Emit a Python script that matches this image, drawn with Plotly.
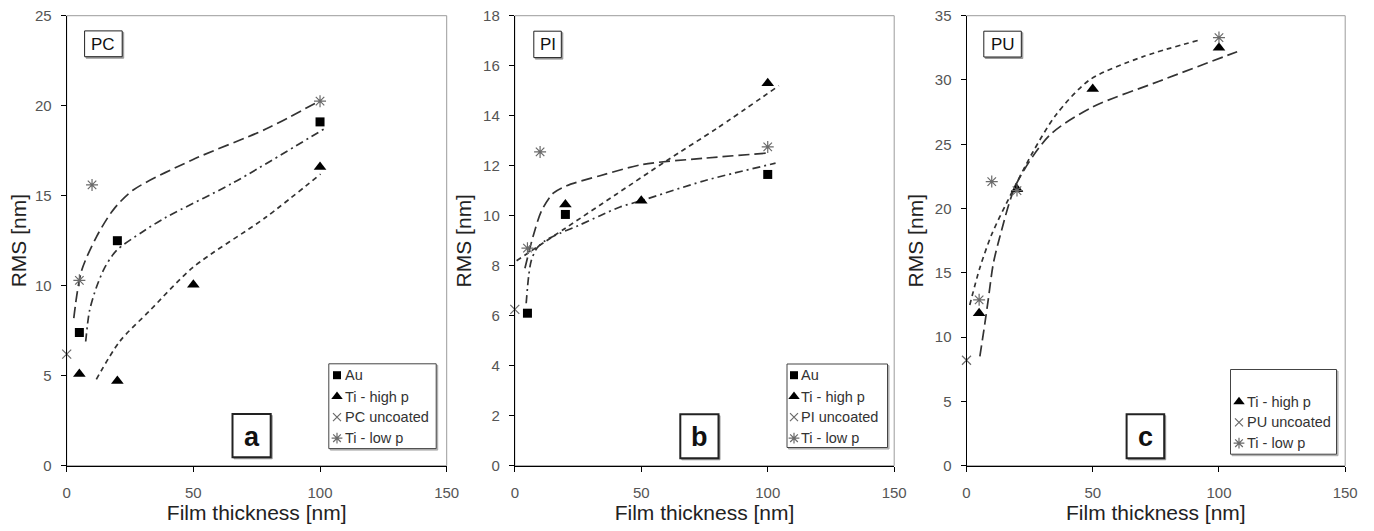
import plotly.graph_objects as go

W, H = 1374, 531

# ---------------- Panel a: PC ----------------
pc_au_x = [5, 20, 100]
pc_au_y = [7.4, 12.5, 19.1]
pc_tihigh_x = [5, 20, 50, 100]
pc_tihigh_y = [5.1, 4.7, 10.05, 16.6]
pc_uncoated_x = [0]
pc_uncoated_y = [6.2]
pc_tilow_x = [5, 10, 100]
pc_tilow_y = [10.3, 15.6, 20.25]

# trend curves (sampled)
pc_fit_tilow_x = [2.8, 5.8, 11.7, 18.3, 26.1, 49.7, 78.6, 100.2]
pc_fit_tilow_y = [8.2, 10.8, 12.7, 14.2, 15.3, 17.0, 18.7, 20.3]
pc_fit_au_x = [7.5, 9.0, 11.7, 15.0, 19.6, 30.0, 39.2, 65.5, 101.5]
pc_fit_au_y = [6.9, 8.6, 9.9, 11.0, 11.95, 13.0, 13.8, 15.7, 18.7]
pc_fit_tihigh_x = [11.7, 20.9, 32.7, 49.7, 78.6, 100.2]
pc_fit_tihigh_y = [4.8, 6.9, 8.6, 11.0, 13.8, 16.2]

# ---------------- Panel b: PI ----------------
pi_au_x = [5, 20, 100]
pi_au_y = [6.1, 10.05, 11.65]
pi_tihigh_x = [20, 50, 100]
pi_tihigh_y = [10.45, 10.6, 15.3]
pi_uncoated_x = [0]
pi_uncoated_y = [6.25]
pi_tilow_x = [5, 10, 100]
pi_tilow_y = [8.7, 12.55, 12.75]

pi_fit_tilow_x = [4.0, 7.3, 10.6, 15.2, 20.5, 33.7, 50.6, 75.0, 99.2]
pi_fit_tilow_y = [7.9, 9.2, 10.2, 10.9, 11.2, 11.6, 12.05, 12.3, 12.5]
pi_fit_au_x = [4.5, 5.5, 6.5, 8.7, 12.0, 17.9, 25.0, 33.7, 41.6, 50.0, 75.0, 103.1]
pi_fit_au_y = [6.5, 7.6, 8.2, 8.7, 9.0, 9.3, 9.6, 10.0, 10.35, 10.6, 11.4, 12.1]
pi_fit_tihigh_x = [0.7, 20.0, 40.0, 60.0, 80.0, 104.4]
pi_fit_tihigh_y = [8.2, 9.5, 10.85, 12.2, 13.5, 15.2]

# ---------------- Panel c: PU ----------------
pu_tihigh_x = [5, 20, 50, 100]
pu_tihigh_y = [11.85, 21.5, 29.3, 32.5]
pu_uncoated_x = [0]
pu_uncoated_y = [8.2]
pu_tilow_x = [5, 10, 20, 100]
pu_tilow_y = [12.9, 22.1, 21.4, 33.3]

pu_fit_tilow_x = [1.3, 5.3, 10.0, 15.8, 26.3, 35.5, 48.7, 69.7, 92.1]
pu_fit_tilow_y = [12.5, 15.4, 18.0, 20.4, 24.4, 27.3, 30.0, 31.8, 33.1]
pu_fit_tihigh_x = [5.3, 7.3, 8.6, 10.6, 13.2, 19.7, 32.9, 50.0, 76.3, 107.2]
pu_fit_tihigh_y = [8.5, 11.1, 12.9, 15.7, 17.8, 21.9, 25.7, 27.9, 29.9, 32.2]

y_ranges = [25, 18, 35]
y_dticks = [5, 2, 5]
x_range = 150
x_dtick = 50

# ---------------- layout constants (pixels) ----------------
PLOT_LEFT = [66.7, 514.8, 966.5]
PLOT_RIGHT = [446.7, 894.2, 1345.2]
PLOT_TOP, PLOT_BOTTOM = 15.7, 465.7

DARK = "#222222"
LINE = "#333333"
GREY_MK = "#6a6a6a"
TICK_TXT = "#555555"
FONT = "Liberation Sans, Arial, sans-serif"

DASH_LONG = "11px,5px"
DASH_SHORT = "5px,4px"
DASH_DOT = "8px,4px,2px,4px"


def px(x):
    return x / W


def py(y):
    return 1 - y / H


MK_SQUARE = dict(symbol="square", size=9, color="black")
MK_TRI = dict(symbol="triangle-up", size=11, color="black")
MK_X = dict(symbol="x-thin-open", size=9, color=GREY_MK, line=dict(width=1.2, color=GREY_MK))
MK_AST = dict(symbol="asterisk-open", size=10, color=GREY_MK, line=dict(width=1.2, color=GREY_MK))

fig = go.Figure()


def curve(xs, ys, dash, ax):
    fig.add_trace(go.Scatter(
        x=xs, y=ys, mode="lines", line=dict(color=LINE, width=1.7, dash=dash, shape="spline", smoothing=0.8),
        xaxis="x" + ax, yaxis="y" + ax, showlegend=False, hoverinfo="skip"))


def points(xs, ys, marker, ax, name):
    fig.add_trace(go.Scatter(
        x=xs, y=ys, mode="markers", marker=marker, name=name, cliponaxis=False,
        xaxis="x" + ax, yaxis="y" + ax, showlegend=False))


# panel a
curve(pc_fit_tilow_x, pc_fit_tilow_y, DASH_LONG, "")
curve(pc_fit_au_x, pc_fit_au_y, DASH_DOT, "")
curve(pc_fit_tihigh_x, pc_fit_tihigh_y, DASH_SHORT, "")
points(pc_au_x, pc_au_y, MK_SQUARE, "", "Au")
points(pc_tihigh_x, pc_tihigh_y, MK_TRI, "", "Ti - high p")
points(pc_uncoated_x, pc_uncoated_y, MK_X, "", "PC uncoated")
points(pc_tilow_x, pc_tilow_y, MK_AST, "", "Ti - low p")

# panel b
curve(pi_fit_tilow_x, pi_fit_tilow_y, DASH_LONG, "2")
curve(pi_fit_au_x, pi_fit_au_y, DASH_DOT, "2")
curve(pi_fit_tihigh_x, pi_fit_tihigh_y, DASH_SHORT, "2")
points(pi_au_x, pi_au_y, MK_SQUARE, "2", "Au")
points(pi_tihigh_x, pi_tihigh_y, MK_TRI, "2", "Ti - high p")
points(pi_uncoated_x, pi_uncoated_y, MK_X, "2", "PI uncoated")
points(pi_tilow_x, pi_tilow_y, MK_AST, "2", "Ti - low p")

# panel c
curve(pu_fit_tilow_x, pu_fit_tilow_y, DASH_SHORT, "3")
curve(pu_fit_tihigh_x, pu_fit_tihigh_y, DASH_LONG, "3")
points(pu_tihigh_x, pu_tihigh_y, MK_TRI, "3", "Ti - high p")
points(pu_uncoated_x, pu_uncoated_y, MK_X, "3", "PU uncoated")
points(pu_tilow_x, pu_tilow_y, MK_AST, "3", "Ti - low p")

shapes = []
annotations = []

# ---------- legends (boxes below the traces, swatches on a full-page pixel axis) ----------
legends = [
    dict(box=(328.8, 363.8, 436.2, 448.6), mx=337.0, tx=342.5, rows=[375.2, 396.5, 417.2, 438.2],
         items=[(MK_SQUARE, "Au"), (MK_TRI, "Ti - high p"), (MK_X, "PC uncoated"), (MK_AST, "Ti - low p")]),
    dict(box=(787.0, 364.0, 887.5, 447.5), mx=794.0, tx=799.0, rows=[375.2, 396.5, 417.2, 438.2],
         items=[(MK_SQUARE, "Au"), (MK_TRI, "Ti - high p"), (MK_X, "PI uncoated"), (MK_AST, "Ti - low p")]),
    dict(box=(1230.5, 369.5, 1336.5, 454.2), mx=1239.0, tx=1244.5, rows=[401.7, 422.3, 443.2],
         items=[(MK_TRI, "Ti - high p"), (MK_X, "PU uncoated"), (MK_AST, "Ti - low p")]),
]

for lg in legends:
    x0, y0, x1, y1 = lg["box"]
    shapes.append(dict(type="rect", xref="paper", yref="paper", x0=px(x0 + 1.5), x1=px(x1 + 1.5),
                       y0=py(y1 + 1.5), y1=py(y0 + 1.5), line=dict(color="#aaaaaa", width=1),
                       fillcolor="#bbbbbb", layer="below"))
    shapes.append(dict(type="rect", xref="paper", yref="paper", x0=px(x0), x1=px(x1),
                       y0=py(y1), y1=py(y0), line=dict(color="#444444", width=1),
                       fillcolor="white", layer="below"))
    for (mk, label), ry in zip(lg["items"], lg["rows"]):
        fig.add_trace(go.Scatter(x=[lg["mx"]], y=[ry], mode="markers",
                                 marker=dict(mk, size=mk["size"] - 1), xaxis="x4", yaxis="y4",
                                 showlegend=False, hoverinfo="skip", cliponaxis=False))
        annotations.append(dict(xref="paper", yref="paper", x=px(lg["tx"]), y=py(ry), text=label,
                                showarrow=False, xanchor="left", yanchor="middle",
                                font=dict(family=FONT, size=14.5, color="#333333")))

# ---------- material and panel label boxes ----------
tags = [
    ((84.6, 30.9, 122.2, 56.7), "PC", False),
    ((533.8, 31.2, 561.3, 57.6), "PI", False),
    ((983.8, 31.2, 1021.3, 57.0), "PU", False),
    ((232.5, 413.9, 270.7, 457.3), "a", True),
    ((680.3, 414.2, 718.5, 458.3), "b", True),
    ((1126.6, 414.2, 1164.2, 458.3), "c", True),
]
for (x0, y0, x1, y1), label, big in tags:
    off = 1.5
    shapes.append(dict(type="rect", xref="paper", yref="paper", x0=px(x0 + off), x1=px(x1 + off),
                       y0=py(y1 + off), y1=py(y0 + off), line=dict(color="#9a9a9a", width=1),
                       fillcolor="#9a9a9a", layer="below"))
    shapes.append(dict(type="rect", xref="paper", yref="paper", x0=px(x0), x1=px(x1),
                       y0=py(y1), y1=py(y0), line=dict(color="#222222", width=2 if big else 1),
                       fillcolor="white", layer="below"))
    annotations.append(dict(xref="paper", yref="paper", x=px((x0 + x1) / 2), y=py((y0 + y1) / 2 + (1 if big else 0.5)),
                            text=f"<b>{label}</b>" if big else label, showarrow=False,
                            xanchor="center", yanchor="middle",
                            font=dict(family=FONT, size=27 if big else 17, color="#111111")))

# ---------- grey frame on top/right of each plot ----------
for ax in ["x", "x2", "x3"]:
    shapes.append(dict(type="rect", xref=ax + " domain", yref="y" + ax[1:] + " domain" if ax != "x" else "y domain",
                       x0=0, x1=1, y0=0, y1=1, line=dict(color="#9c9c9c", width=1), layer="below"))

y_dom = [py(PLOT_BOTTOM), py(PLOT_TOP)]


def xaxis(i):
    return dict(domain=[px(PLOT_LEFT[i]), px(PLOT_RIGHT[i])], range=[0, x_range], dtick=x_dtick, tick0=0,
                showline=True, linecolor="black", linewidth=1, ticks="outside", ticklen=5, tickcolor="black",
                showgrid=False, zeroline=False, fixedrange=True, anchor="y" if i == 0 else f"y{i + 1}",
                tickfont=dict(family=FONT, size=15, color=TICK_TXT), ticklabelstandoff=8,
                title=dict(text="Film thickness [nm]", font=dict(family=FONT, size=21, color=DARK), standoff=2),
                automargin=False)


def yaxis(i):
    return dict(domain=y_dom, range=[0, y_ranges[i]], dtick=y_dticks[i], tick0=0,
                showline=True, linecolor="black", linewidth=1, ticks="outside", ticklen=5, tickcolor="black",
                showgrid=False, zeroline=False, fixedrange=True, anchor="x" if i == 0 else f"x{i + 1}",
                tickfont=dict(family=FONT, size=15, color=TICK_TXT), ticklabelstandoff=6,
                title=dict(text="RMS [nm]", font=dict(family=FONT, size=21, color=DARK), standoff=2 if i == 0 else 5),
                automargin=False)


fig.update_layout(
    width=W, height=H, margin=dict(l=0, r=0, t=0, b=0),
    paper_bgcolor="white", plot_bgcolor="rgba(0,0,0,0)",
    xaxis=xaxis(0), yaxis=yaxis(0),
    xaxis2=xaxis(1), yaxis2=yaxis(1),
    xaxis3=xaxis(2), yaxis3=yaxis(2),
    xaxis4=dict(domain=[0, 1], range=[0, W], visible=False, fixedrange=True, anchor="y4"),
    yaxis4=dict(domain=[0, 1], range=[H, 0], visible=False, fixedrange=True, anchor="x4"),
    shapes=shapes, annotations=annotations, showlegend=False,
)

fig.write_html("out.html")
